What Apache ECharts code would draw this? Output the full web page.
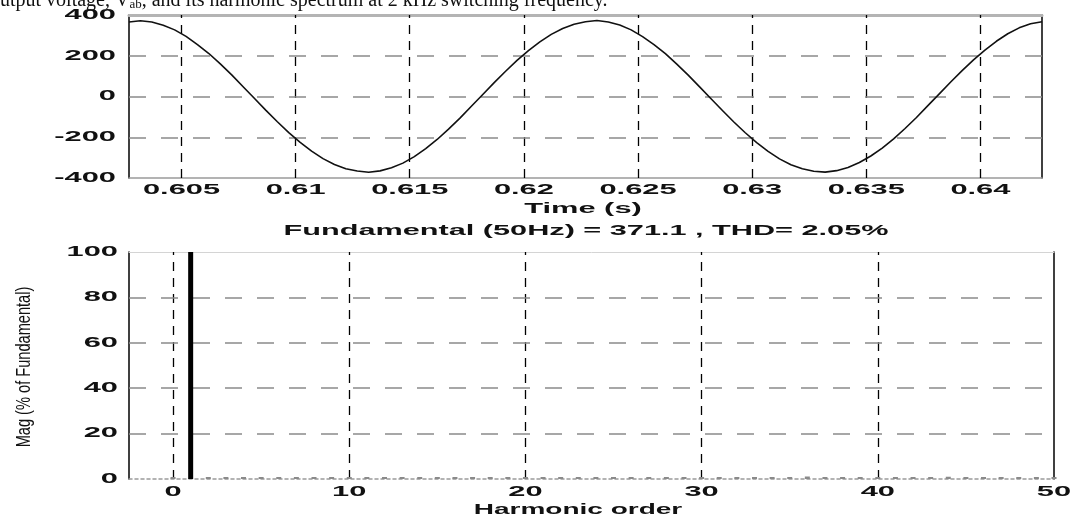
<!DOCTYPE html>
<html><head><meta charset="utf-8">
<script src="https://cdn.jsdelivr.net/npm/echarts@6/dist/echarts.min.js"></script>
<style>html,body{margin:0;padding:0;background:#fff;overflow:hidden}#c{width:1074px;height:519px}</style>
</head><body><div id="c"></div>
<script>
// ---- data ----
const timeS = [0.6027,0.6032,0.6037,0.6042,0.6047,0.6052,0.6057,0.6062,0.6067,0.6072,
  0.6077,0.6082,0.6087,0.6092,0.6097,0.6102,0.6107,0.6112,0.6117,0.6122,
  0.6127,0.6132,0.6137,0.6142,0.6147,0.6152,0.6157,0.6162,0.6167,0.6172,
  0.6177,0.6182,0.6187,0.6192,0.6197,0.6202,0.6207,0.6212,0.6217,0.6222,
  0.6227,0.6232,0.6237,0.6242,0.6247,0.6252,0.6257,0.6262,0.6267,0.6272,
  0.6277,0.6282,0.6287,0.6292,0.6297,0.6302,0.6307,0.6312,0.6317,0.6322,
  0.6327,0.6332,0.6337,0.6342,0.6347,0.6352,0.6357,0.6362,0.6367,0.6372,
  0.6377,0.6382,0.6387,0.6392,0.6397,0.6402,0.6407,0.6412,0.6417,0.6422,0.6427];
const voltage = [366,372,366,350,327,295,255,211,160,106,
  48,-10,-68,-124,-177,-225,-268,-305,-334,-355,
  -366,-372,-365,-350,-327,-295,-256,-211,-160,-106,
  -48,10,68,124,177,225,268,305,334,355,
  367,373,366,351,327,294,255,210,159,105,
  47,-11,-69,-125,-178,-226,-269,-306,-335,-355,
  -367,-371,-364,-348,-324,-292,-253,-208,-157,-103,
  -45,13,71,127,180,228,271,308,337,357,367];
const timeTicks = [0.605,0.61,0.615,0.62,0.625,0.63,0.635,0.64];
const voltTicks = [400,200,0,-200,-400];
const voltGrid = [200,0,-200];

const harmonicOrder = [0,1,2,3,4,5,6,7,8,9,10,11,12,13,14,15,16,17,18,19,20,
  21,22,23,24,25,26,27,28,29,30,31,32,33,34,35,36,37,38,39,40,
  41,42,43,44,45,46,47,48,49,50];
const harmonicMag = [0.3,100,0.2,0.3,0.2,0.3,0.2,0.2,0.3,0.2,0.2,
  0.2,0.3,0.2,0.2,0.2,0.3,0.2,0.2,0.2,0.2,
  0.3,0.2,0.2,0.3,0.2,0.2,0.2,0.3,0.3,0.2,
  0.3,0.2,0.3,0.3,0.4,1.1,0.3,0.3,0.2,0.3,
  0.3,0.3,0.3,1.0,0.3,0.3,0.3,0.3,0.2,0.4];
const orderTicks = [0,10,20,30,40,50];
const orderGrid = [0,10,20,30,40];
const magTicks = [100,80,60,40,20,0];
const magGrid = [20,40,60,80];

const titleText = 'Fundamental (50Hz) = 371.1 , THD= 2.05%';
const xName1 = 'Time (s)';
const xName2 = 'Harmonic order';
const yName2 = 'Mag (% of Fundamental)';

// ---- layout ----
const T_MIN = 0.6027, T_MAX = 0.6427;
const H_MIN = -2.5, H_MAX = 50;
const vDash = {color:'#000', type:[9,7], width:1.3};
const hDash = {color:'#8a8a8a', type:[17,15], width:1.5};

function borderAxis(gridIndex, pos, min, max, lineStyle) {
  return {type:'value', gridIndex, position:pos, min, max,
    axisLine:{show:true, onZero:false, lineStyle},
    axisTick:{show:false}, axisLabel:{show:false}, splitLine:{show:false}};
}
const markCommon = {silent:true, symbol:['none','none'], label:{show:false}, animation:false, precision:8};

const option = {
  animation:false,
  backgroundColor:'#fff',
  grid:[{left:129, top:15, width:913, height:163},
        {left:129, top:252, width:925, height:227}],
  xAxis:[
    borderAxis(0,'bottom',T_MIN,T_MAX,{color:'#9a9a9a',width:1.5}),
    borderAxis(0,'top',T_MIN,T_MAX,{color:'#b4b4b4',width:3}),
    borderAxis(1,'bottom',H_MIN,H_MAX,{color:'#9a9a9a',width:1.5,type:[3,3]}),
    borderAxis(1,'top',H_MIN,H_MAX,{color:'#d4d4d4',width:1})
  ],
  yAxis:[
    borderAxis(0,'left',-400,400,{color:'#000',width:1.5}),
    borderAxis(0,'right',-400,400,{color:'#000',width:1.5}),
    borderAxis(1,'left',0,100,{color:'#000',width:1.5}),
    borderAxis(1,'right',0,100,{color:'#000',width:1.5})
  ],
  series:[
    {type:'line', xAxisIndex:0, yAxisIndex:0, z:1, data:[],
      markLine:Object.assign({}, markCommon, {data:
        timeTicks.map(v=>({xAxis:v, lineStyle:vDash}))
        .concat(voltGrid.map(v=>({yAxis:v, lineStyle:hDash})))})},
    {type:'line', xAxisIndex:0, yAxisIndex:0, z:5, symbol:'none', showSymbol:false,
      lineStyle:{color:'#111', width:1.6},
      data: timeS.map((t,i)=>[t, voltage[i]])},
    {type:'line', xAxisIndex:2, yAxisIndex:2, z:1, data:[],
      markLine:Object.assign({}, markCommon, {data:
        orderGrid.map(v=>({xAxis:v, lineStyle:vDash}))
        .concat(magGrid.map(v=>({yAxis:v, lineStyle:hDash})))})},
    {type:'bar', xAxisIndex:2, yAxisIndex:2, z:5, barWidth:5, barMinHeight:2,
      itemStyle:{color:p=>p.value[1] >= 50 ? '#000' : '#8a8a8a'},
      data: harmonicOrder.map((o,i)=>[o, harmonicMag[i]])}
  ]
};

const chart = echarts.init(document.getElementById('c'), null, {renderer:'canvas'});
chart.setOption(option);

const FONT = 'bold 14px "Liberation Sans"';
function txt(x, y, text, align, scale, extra) {
  return Object.assign({type:'text', x, y, scaleX:scale, silent:true, z:10,
    style:{text, font:FONT, fill:'#111', align, verticalAlign:'middle',
      textAlign:align, textVerticalAlign:'middle'}}, extra || {});
}
const g = [];
timeTicks.forEach(v=>{ const p = chart.convertToPixel({gridIndex:0}, [v, -400]); g.push(txt(p[0], 190, String(v), 'center', 2.2)); });
voltTicks.forEach(v=>{ const p = chart.convertToPixel({gridIndex:0}, [T_MIN, v]); g.push(txt(116, p[1], String(v), 'right', 2.2)); });
orderTicks.forEach(v=>{ const p = chart.convertToPixel({gridIndex:1}, [v, 0]); g.push(txt(p[0], 492, String(v), 'center', 2.2)); });
magTicks.forEach(v=>{ const p = chart.convertToPixel({gridIndex:1}, [H_MIN, v]); g.push(txt(118, p[1], String(v), 'right', 2.2)); });
g.push(txt(583, 209, xName1, 'center', 2.2));
g.push(txt(586, 231, titleText, 'center', 2.19));
g.push(txt(578, 510, xName2, 'center', 2.0));
g.push({type:'text', x:24, y:367, rotation:Math.PI/2, scaleX:0.73, silent:true, z:10,
  style:{text:yName2, font:'20px "Liberation Sans"', fill:'#111', align:'center', verticalAlign:'middle',
    textAlign:'center', textVerticalAlign:'middle'}});
// cropped caption line at the very top
g.push({type:'text', x:-10, y:1, silent:true, z:10,
  style:{text:'output voltage, V{s|ab}, and its harmonic spectrum at 2 kHz switching frequency.',
    font:'20px "Liberation Serif"', fill:'#111', align:'left', verticalAlign:'middle',
    textAlign:'left', textVerticalAlign:'middle',
    rich:{s:{font:'13px "Liberation Serif"', fill:'#111', verticalAlign:'bottom', padding:[6,0,0,0]}}}});
chart.setOption({graphic:g});
</script>
</body></html>
